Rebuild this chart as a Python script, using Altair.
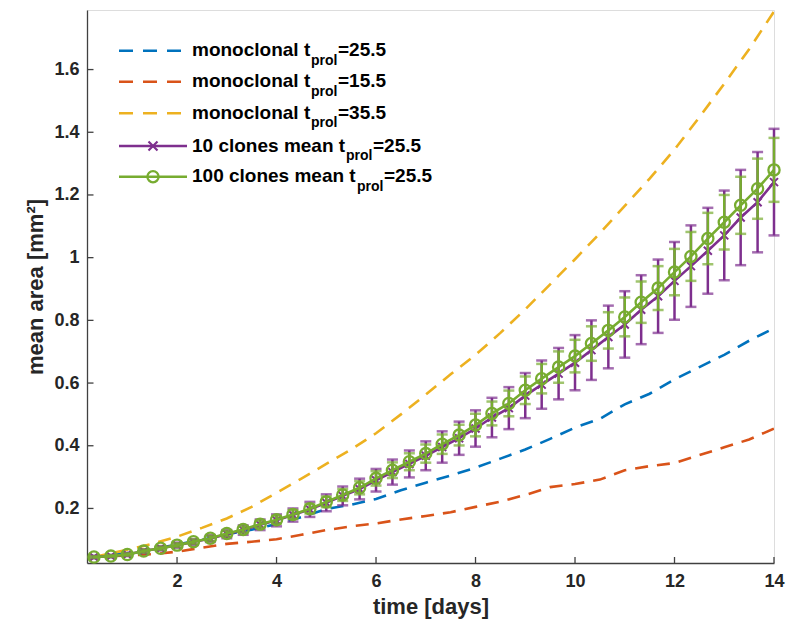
import altair as alt
import pandas as pd

# ---------------- data ----------------
t_mono = [0.33, 1, 1.5, 2, 2.5, 3, 3.5, 4, 4.5, 5, 5.5, 6, 6.5, 7, 7.5, 8, 8.5,
          9, 9.5, 10, 10.5, 11, 11.5, 12, 12.5, 13, 13.5, 14]
mono_25 = [0.045, 0.058, 0.070, 0.085, 0.100, 0.118, 0.132, 0.150, 0.172, 0.198, 0.212,
           0.230, 0.258, 0.282, 0.305, 0.330, 0.359, 0.388, 0.422, 0.458, 0.486, 0.532,
           0.566, 0.612, 0.651, 0.690, 0.735, 0.775]
mono_15 = [0.045, 0.050, 0.054, 0.062, 0.075, 0.087, 0.094, 0.102, 0.116, 0.131, 0.143,
           0.152, 0.165, 0.176, 0.188, 0.205, 0.222, 0.243, 0.268, 0.278, 0.292, 0.322,
           0.335, 0.345, 0.370, 0.395, 0.420, 0.455]
mono_35 = [0.045, 0.068, 0.087, 0.110, 0.138, 0.168, 0.205, 0.250, 0.295, 0.342, 0.388,
           0.440, 0.500, 0.563, 0.628, 0.690, 0.760, 0.835, 0.915, 0.995, 1.078, 1.165,
           1.252, 1.345, 1.448, 1.555, 1.665, 1.785]

t_clone = [0.33, 0.67, 1.0, 1.33, 1.67, 2.0, 2.33, 2.67, 3.0, 3.33, 3.67, 4.0, 4.33, 4.67,
           5.0, 5.33, 5.67, 6.0, 6.33, 6.67, 7.0, 7.33, 7.67, 8.0, 8.33, 8.67, 9.0, 9.33,
           9.67, 10.0, 10.33, 10.67, 11.0, 11.33, 11.67, 12.0, 12.33, 12.67, 13.0, 13.33,
           13.67, 14.0]
mean_10 = [0.045, 0.048, 0.053, 0.064, 0.073, 0.083, 0.093, 0.104, 0.118, 0.131, 0.148,
           0.162, 0.179, 0.197, 0.218, 0.240, 0.262, 0.290, 0.316, 0.342, 0.368, 0.396,
           0.424, 0.455, 0.490, 0.520, 0.560, 0.595, 0.630, 0.665, 0.705, 0.747, 0.787,
           0.834, 0.877, 0.926, 0.973, 1.022, 1.071, 1.128, 1.177, 1.241]
err_10 = [0.004, 0.004, 0.005, 0.006, 0.007, 0.008, 0.009, 0.011, 0.013, 0.015, 0.017,
          0.019, 0.021, 0.024, 0.027, 0.030, 0.033, 0.036, 0.040, 0.043, 0.046, 0.050,
          0.053, 0.058, 0.063, 0.067, 0.072, 0.077, 0.082, 0.088, 0.095, 0.100, 0.106,
          0.110, 0.117, 0.124, 0.130, 0.137, 0.143, 0.152, 0.160, 0.170]
mean_100 = [0.045, 0.048, 0.053, 0.064, 0.073, 0.083, 0.094, 0.105, 0.120, 0.133, 0.150,
            0.164, 0.181, 0.199, 0.221, 0.243, 0.266, 0.296, 0.322, 0.349, 0.375, 0.405,
            0.434, 0.466, 0.503, 0.535, 0.577, 0.614, 0.651, 0.686, 0.726, 0.768, 0.811,
            0.858, 0.903, 0.954, 1.004, 1.061, 1.113, 1.167, 1.220, 1.280]
err_100 = [0.003, 0.003, 0.004, 0.005, 0.005, 0.006, 0.007, 0.008, 0.009, 0.010, 0.011,
           0.012, 0.014, 0.015, 0.017, 0.019, 0.021, 0.023, 0.025, 0.027, 0.029, 0.031,
           0.033, 0.036, 0.038, 0.041, 0.044, 0.047, 0.050, 0.052, 0.055, 0.058, 0.062,
           0.066, 0.070, 0.074, 0.078, 0.082, 0.087, 0.091, 0.096, 0.102]

x_ticks = [2, 4, 6, 8, 10, 12, 14]
y_ticks = [0.2, 0.4, 0.6, 0.8, 1.0, 1.2, 1.4, 1.6]

series_names = ["monoclonal 25.5", "monoclonal 15.5", "monoclonal 35.5"]
legend_main = ["monoclonal t", "monoclonal t", "monoclonal t", "10 clones mean t", "100 clones mean t"]
legend_tail = ["=25.5", "=15.5", "=35.5", "=25.5", "=25.5"]

BLUE, ORANGE, YELLOW, PURPLE, GREEN = "#0072BD", "#D95319", "#EDB120", "#7E2F8E", "#77AC30"
FONT = "Liberation Sans"
W, H = 687, 553

# ---------------- tables ----------------
rows = []
for name, vals in zip(series_names, [mono_25, mono_15, mono_35]):
    for t, v in zip(t_mono, vals):
        rows.append({"t": t, "v": v, "s": name})
mono = pd.DataFrame(rows)
clones = pd.DataFrame({"t": t_clone, "pm": mean_10, "pe": err_10, "gm": mean_100, "ge": err_100})

x_scale = alt.Scale(domain=[0.19, 14], nice=False, zero=False)
y_scale = alt.Scale(domain=[0.026, 1.79], nice=False, zero=False)

x_axis = alt.Axis(values=x_ticks, format="d", ticks=False, grid=False, labelPadding=9,
                  labelFont=FONT, labelFontSize=18, labelFontWeight="bold", labelColor="#262626",
                  domainColor="#404040", domainWidth=1.3, title="time [days]",
                  titleFont=FONT, titleFontSize=22, titleFontWeight="bold", titleColor="#262626",
                  titlePadding=6, labelFlush=False)
y_axis = alt.Axis(values=y_ticks, format=".1~f", ticks=False, grid=False, labelPadding=8,
                  labelFont=FONT, labelFontSize=18, labelFontWeight="bold", labelColor="#262626",
                  domainColor="#404040", domainWidth=1.3, title="mean area [mm²]",
                  titleFont=FONT, titleFontSize=22, titleFontWeight="bold", titleColor="#262626",
                  titlePadding=6, labelFlush=False)


def xcol(c="t"):
    return alt.X(f"{c}:Q", scale=x_scale, axis=x_axis)


def ycol(c):
    return alt.Y(f"{c}:Q", scale=y_scale, axis=y_axis)


mono_layer = alt.Chart(mono).mark_line(strokeWidth=2.6, strokeDash=[13, 9], clip=True).encode(
    x=xcol(),
    y=ycol("v"),
    color=alt.Color("s:N", scale=alt.Scale(domain=series_names, range=[BLUE, ORANGE, YELLOW]), legend=None),
    detail="s:N",
)

cb = alt.Chart(clones).transform_calculate(
    plo="datum.pm - datum.pe", phi="datum.pm + datum.pe",
    glo="datum.gm - datum.ge", ghi="datum.gm + datum.ge",
)


def err_layers(lo, hi, mean, color, marker):
    bar = cb.mark_rule(color=color, strokeWidth=2.5).encode(x=xcol(), y=ycol(lo), y2=f"{hi}:Q")
    cap_lo = cb.mark_tick(color=color, orient="horizontal", size=11, thickness=2.5).encode(x=xcol(), y=ycol(lo))
    cap_hi = cb.mark_tick(color=color, orient="horizontal", size=11, thickness=2.5).encode(x=xcol(), y=ycol(hi))
    line = cb.mark_line(color=color, strokeWidth=2.6).encode(x=xcol(), y=ycol(mean))
    if marker == "x":
        pts = cb.mark_point(shape="M-1,-1L1,1M-1,1L1,-1", filled=False, stroke=color,
                            strokeWidth=2, size=64, opacity=1).encode(x=xcol(), y=ycol(mean))
    else:
        pts = cb.mark_point(shape="circle", filled=False, stroke=color, strokeWidth=2.3,
                            size=125, opacity=1).encode(x=xcol(), y=ycol(mean))
    return [bar, cap_lo, cap_hi, line, pts]


purple_layers = err_layers("plo", "phi", "pm", PURPLE, "x")
green_layers = err_layers("glo", "ghi", "gm", GREEN, "o")

# inward axis ticks
xt = alt.Chart(pd.DataFrame({"t": x_ticks})).mark_rule(color="#404040", strokeWidth=1.3).encode(
    x=xcol(), y=alt.value(H), y2=alt.value(H - 6))
yt = alt.Chart(pd.DataFrame({"v": y_ticks})).mark_rule(color="#404040", strokeWidth=1.3).encode(
    y=ycol("v"), x=alt.value(0), x2=alt.value(6.5))

# legend (manual, for subscript text)
one = pd.DataFrame({"a": [0]})
row_y = [40.7, 71.7, 103.3, 136, 166.7]
sym_colors = [BLUE, ORANGE, YELLOW, PURPLE, GREEN]
main_w = [118, 118, 118, 153, 164]
leg = []
for i in range(5):
    y = row_y[i]
    if i < 3:
        leg.append(alt.Chart(one).mark_rule(color=sym_colors[i], strokeWidth=2.6, strokeDash=[14, 10]).encode(
            x=alt.value(32), x2=alt.value(100), y=alt.value(y)))
    else:
        leg.append(alt.Chart(one).mark_rule(color=sym_colors[i], strokeWidth=2.6).encode(
            x=alt.value(32), x2=alt.value(100), y=alt.value(y)))
        if i == 3:
            leg.append(alt.Chart(one).mark_point(shape="M-1,-1L1,1M-1,1L1,-1", filled=False,
                                                 stroke=PURPLE, strokeWidth=2.2, size=81, opacity=1).encode(
                x=alt.value(66), y=alt.value(y)))
        else:
            leg.append(alt.Chart(one).mark_point(shape="circle", filled=False, stroke=GREEN,
                                                 strokeWidth=2.3, size=125, opacity=1).encode(
                x=alt.value(66), y=alt.value(y)))
    tx = 105
    leg.append(alt.Chart(one).mark_text(text=legend_main[i], align="left", baseline="alphabetic",
                                        font=FONT, fontSize=19, fontWeight="bold", color="#000000").encode(
        x=alt.value(tx), y=alt.value(y + 5.5)))
    leg.append(alt.Chart(one).mark_text(text="prol", align="left", baseline="alphabetic",
                                        font=FONT, fontSize=14, fontWeight="bold", color="#000000").encode(
        x=alt.value(tx + main_w[i] + 1), y=alt.value(y + 14)))
    leg.append(alt.Chart(one).mark_text(text=legend_tail[i], align="left", baseline="alphabetic",
                                        font=FONT, fontSize=19, fontWeight="bold", color="#000000").encode(
        x=alt.value(tx + main_w[i] + 28), y=alt.value(y + 5.5)))

chart = alt.layer(mono_layer, *purple_layers, *green_layers, xt, yt, *leg).properties(
    width=W, height=H,
    padding={"left": 87, "top": 10, "right": 14, "bottom": 63},
    autosize=alt.AutoSizeParams(type="none"),
).configure_view(stroke=None).configure(background="white")

chart.save("out.html", embed_options={"renderer": "svg", "actions": False})
